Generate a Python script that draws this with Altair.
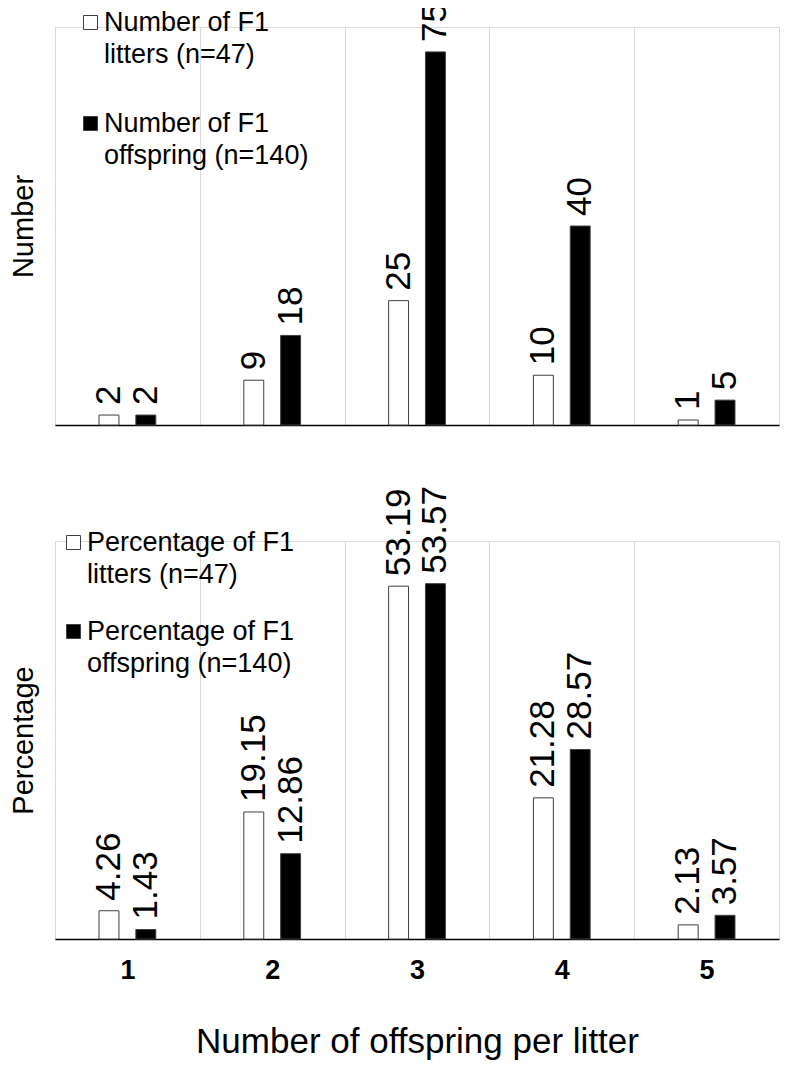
import altair as alt
import pandas as pd

categories = ["1", "2", "3", "4", "5"]
litters_n = [2, 9, 25, 10, 1]
offspring_n = [2, 18, 75, 40, 5]
litters_pct = [4.26, 19.15, 53.19, 21.28, 2.13]
offspring_pct = [1.43, 12.86, 53.57, 28.57, 3.57]

keys = ["litters", "offspring"]
top_series = ["Number of F1|litters (n=47)", "Number of F1|offspring (n=140)"]
bot_series = ["Percentage of F1|litters (n=47)", "Percentage of F1|offspring (n=140)"]

def make_df(series, a, b, fmt):
    rows = []
    for c, va, vb in zip(categories, a, b):
        rows.append({"cat": c, "key": keys[0], "series": series[0], "value": va, "label": fmt.format(va)})
        rows.append({"cat": c, "key": keys[1], "series": series[1], "value": vb, "label": fmt.format(vb)})
    return pd.DataFrame(rows)

top_df = make_df(top_series, litters_n, offspring_n, "{:d}")
bot_df = make_df(bot_series, litters_pct, offspring_pct, "{:.2f}")

FONT = "Liberation Sans"
W, H = 724, 398

def panel(df, series, ymax, ytitle, show_x, legend_x, legend_y, row_pad):
    x_axis = alt.Axis(
        labels=show_x, ticks=False, domain=True, domainColor="#000000", domainWidth=1.5,
        grid=True, gridColor="#d9d9d9", gridWidth=1, tickBand="extent",
        title="Number of offspring per litter" if show_x else None,
        labelFontSize=27, labelFontWeight="bold", labelAngle=0, labelPadding=18,
        labelColor="#000000", labelFont=FONT,
        titleFontSize=35, titleFontWeight="normal", titleColor="#000000", titlePadding=41,
        titleFont=FONT,
    )
    x = alt.X("cat:O", axis=x_axis, scale=alt.Scale(paddingInner=0, paddingOuter=0), sort=categories)
    # spacer slots around the two series give the bar spacing inside each category
    xo = alt.XOffset("key:N", scale=alt.Scale(domain=["_a"] + keys + ["_b"],
                                              paddingInner=0.459, paddingOuter=0.195))
    y = alt.Y("value:Q", scale=alt.Scale(domain=[0, ymax], nice=False, zero=True),
              axis=alt.Axis(title=ytitle, domain=False, ticks=False, labels=False, grid=False,
                            titleFontSize=29, titleFontWeight="normal", titleColor="#000000",
                            titlePadding=17, titleFont=FONT))
    bars = alt.Chart(df).mark_bar(stroke="#404040", strokeWidth=1).encode(
        x=x, xOffset=xo, y=y,
        color=alt.Color("series:N", scale=alt.Scale(domain=series, range=["#ffffff", "#000000"]),
                        legend=alt.Legend(
                            title=None, orient="none", legendX=legend_x, legendY=legend_y,
                            symbolType="square", symbolSize=196, symbolStrokeColor="#404040",
                            symbolStrokeWidth=1, labelFontSize=27, labelFont=FONT,
                            labelColor="#000000", labelLimit=0, labelOffset=0,
                            labelExpr="split(datum.label, '|')", labelBaseline="middle",
                            rowPadding=row_pad)),
    )
    text = alt.Chart(df).mark_text(angle=270, align="left", baseline="middle", dx=10,
                                   fontSize=35, font=FONT, color="#000000").encode(
        x=x, xOffset=xo, y=y, text="label:N")
    return alt.layer(bars, text).properties(width=W, height=H)

top = panel(top_df, top_series, 80, "Number", False, 22, -18, 41)
bottom = panel(bot_df, bot_series, 60, "Percentage", True, 5, -12, 29)

chart = alt.vconcat(top, bottom, spacing=59).resolve_scale(color="independent").properties(
    padding={"left": 0, "top": -6, "right": 0, "bottom": 0}
).configure_view(stroke=None).configure(font=FONT, style={"guide-label": {"lineHeight": 32}})

chart.save("out.html", embed_options={"renderer": "svg", "actions": False})
